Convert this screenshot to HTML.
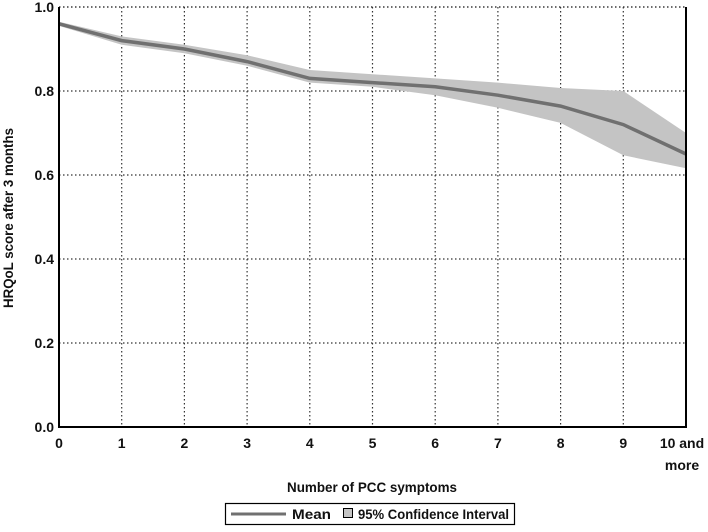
<!DOCTYPE html>
<html><head><meta charset="utf-8"><style>
body{margin:0;background:#fff;width:708px;height:527px;overflow:hidden}
svg text{font-family:"Liberation Sans",Arial,sans-serif;fill:#111;font-weight:bold}
</style></head><body>
<svg width="708" height="527" id="chart">
<g id="grid"></g><g id="series"></g><g id="axes"></g>
<text x="372" y="492" font-size="14" text-anchor="middle" textLength="170" lengthAdjust="spacingAndGlyphs">Number of PCC symptoms</text>
<text transform="translate(13,218) rotate(-90)" font-size="14" text-anchor="middle" textLength="180" lengthAdjust="spacingAndGlyphs">HRQoL score after 3 months</text>
<g>
<rect x="225.5" y="503.5" width="289" height="21" fill="#fff" stroke="#000" stroke-width="1.2"/>
<line x1="231" y1="514" x2="286" y2="514" stroke="#707070" stroke-width="3"/>
<text x="292" y="519" font-size="14" textLength="39" lengthAdjust="spacingAndGlyphs">Mean</text>
<rect x="343.5" y="508.5" width="9" height="9" fill="#c4c4c4" stroke="#000"/>
<text x="358" y="519" font-size="14" textLength="151" lengthAdjust="spacingAndGlyphs">95% Confidence Interval</text>
</g>
</svg>
<script>
const categories=["0","1","2","3","4","5","6","7","8","9","10 and more"];
const meanValues=[0.96,0.92,0.90,0.87,0.83,0.82,0.81,0.79,0.764,0.72,0.65];
const upperValues=[0.965,0.93,0.91,0.885,0.85,0.84,0.83,0.82,0.807,0.80,0.70];
const lowerValues=[0.955,0.91,0.89,0.86,0.82,0.81,0.79,0.76,0.724,0.647,0.616];
const yTicks=[0,0.2,0.4,0.6,0.8,1.0];
const yTickLabels=["0.0","0.2","0.4","0.6","0.8","1.0"];
const L=59,R=686,T=7,B=427,NS="http://www.w3.org/2000/svg";
const x=i=>L+(R-L)*i/(categories.length-1);
const y=v=>B-(B-T)*v;
function mk(tag,attrs,parent){const e=document.createElementNS(NS,tag);for(const k in attrs)e.setAttribute(k,attrs[k]);document.getElementById(parent).appendChild(e);return e;}
yTicks.forEach((t,i)=>{
  if(t>0){const g=mk('line',{x1:L,x2:R,y1:y(t),y2:y(t),stroke:'#333','stroke-width':1.2,'stroke-dasharray':'1.5,2.5'},'grid');
  
  }
  const tx=mk('text',{x:L-5,y:y(t)+5,'font-size':14,'text-anchor':'end'},'axes');tx.textContent=yTickLabels[i];
  
  
});
categories.forEach((c,i)=>{
  if(i>0&&i<categories.length-1){const g=mk('line',{x1:x(i),x2:x(i),y1:T,y2:B,stroke:'#333','stroke-width':1.2,'stroke-dasharray':'1.5,2.5'},'grid');
  
  }
  const tx=mk('text',{x:x(i),y:B+21,'font-size':14,'text-anchor':'middle'},'axes');
  
  
  if(c==="10 and more"){tx.innerHTML='<tspan x="'+(x(i)-4)+'">10 and</tspan><tspan x="'+(x(i)-4)+'" dy="22">more</tspan>';}
  else tx.textContent=c;
});
let d='M'+upperValues.map((v,i)=>x(i)+','+y(v)).join('L')+'L'+lowerValues.map((v,i)=>x(i)+','+y(v)).reverse().join('L')+'Z';
const band=mk('path',{d:d,fill:'#c4c4c4'},'series');


const ln=mk('polyline',{points:meanValues.map((v,i)=>x(i)+','+y(v)).join(' '),fill:'none',stroke:'#707070','stroke-width':3.5},'series');


const topBorder=mk('line',{x1:L,x2:R,y1:T,y2:T,stroke:'#333','stroke-width':1.2,'stroke-dasharray':'1.5,2.5'},'axes');


const ax=mk('path',{d:`M${L},${T}V${B}H${R}V${T}`,fill:'none',stroke:'#000','stroke-width':2},'axes');


</script>
</body></html>
